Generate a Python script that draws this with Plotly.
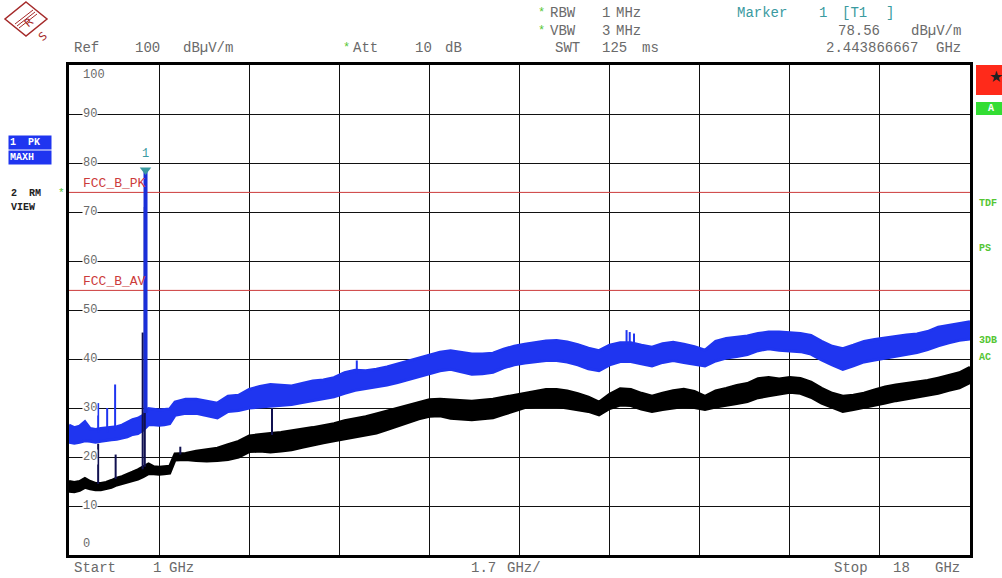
import plotly.graph_objects as go

# ---------------- data ----------------
freq_ghz = [1.0, 1.1, 1.2, 1.3, 1.4, 1.5, 1.6, 1.7, 1.8, 1.9, 2.0, 2.1, 2.2, 2.3, 2.4,
            2.5, 2.6, 2.7, 2.8, 2.9, 3.0, 3.2, 3.4, 3.6, 3.8, 4.0, 4.2, 4.4, 4.6, 4.8,
            5.0, 5.2, 5.4, 5.6, 5.8, 6.0, 6.2, 6.4, 6.6, 6.8, 7.0, 7.2, 7.4, 7.6, 7.8,
            8.0, 8.2, 8.4, 8.6, 8.8, 9.0, 9.2, 9.4, 9.6, 9.8, 10.0, 10.2, 10.4, 10.6, 10.8,
            11.0, 11.2, 11.4, 11.6, 11.8, 12.0, 12.2, 12.4, 12.6, 12.8, 13.0, 13.2, 13.4, 13.6, 13.8,
            14.0, 14.2, 14.4, 14.6, 14.8, 15.0, 15.2, 15.4, 15.6, 15.8, 16.0, 16.2, 16.4, 16.6, 16.8,
            17.0, 17.2, 17.4, 17.6, 17.8, 18.0]

# trace 1 (PK, MAXH) - lower / upper edge of the noise band, dBuV/m
pk_low = [23.0, 22.8, 23.0, 23.3, 23.2, 23.0, 23.2, 23.4, 23.5, 23.6, 23.8, 24.1, 24.6, 24.8, 25.5,
          26.6, 26.6, 26.5, 26.6, 26.8, 28.5, 28.9, 28.9, 28.4, 28.0, 29.3, 29.5, 30.0, 30.2, 30.3,
          30.5, 30.7, 31.1, 31.5, 31.8, 32.3, 33.0, 33.6, 34.0, 34.3, 34.7, 35.2, 35.8, 36.4, 36.9,
          37.6, 37.9, 37.4, 36.9, 37.0, 37.3, 38.2, 38.8, 39.2, 39.5, 39.7, 39.7, 39.4, 38.8, 38.0,
          37.6, 38.8, 39.5, 39.5, 39.0, 38.6, 39.3, 39.7, 39.3, 38.9, 38.6, 39.6, 40.2, 40.5, 40.9,
          41.7, 42.1, 41.8, 41.7, 41.5, 41.0, 39.8, 38.8, 37.9, 38.6, 39.4, 39.8, 40.2, 40.6, 40.9,
          41.3, 41.9, 42.7, 43.3, 43.8, 44.1]
pk_high = [26.5, 26.0, 26.3, 27.2, 25.8, 25.6, 25.8, 25.9, 26.0, 26.2, 26.5, 27.0, 27.6, 27.9, 28.5,
           29.9, 29.7, 29.6, 29.7, 29.8, 31.2, 31.8, 31.8, 31.4, 31.0, 32.4, 32.6, 33.8, 34.4, 34.8,
           34.6, 34.5, 35.0, 35.5, 35.7, 36.2, 37.2, 37.7, 37.6, 37.9, 38.4, 39.0, 39.6, 40.2, 40.8,
           41.4, 41.7, 41.4, 41.0, 41.0, 41.2, 42.0, 42.6, 43.0, 43.4, 43.7, 43.8, 43.5, 42.9, 42.2,
           41.7, 42.8, 43.3, 43.3, 42.8, 42.4, 43.1, 43.4, 43.0, 42.5, 41.8, 43.6, 44.2, 44.4, 44.7,
           45.2, 45.5, 45.5, 45.4, 45.2, 44.8, 43.6, 42.6, 42.1, 42.8, 43.6, 44.0, 44.3, 44.7, 44.9,
           45.1, 45.6, 46.5, 46.9, 47.2, 47.6]

# trace 2 (RM, VIEW) - lower / upper edge of the noise band, dBuV/m
rm_low = [13.0, 12.9, 13.2, 13.8, 13.5, 13.3, 13.3, 13.5, 13.8, 14.3, 14.6, 14.9, 15.2, 15.5, 16.0,
          16.6, 16.6, 16.5, 16.6, 16.7, 19.4, 19.5, 19.3, 19.2, 19.3, 19.5, 20.0, 21.1, 21.2, 21.0,
          21.2, 21.5, 22.0, 22.5, 22.9, 23.3, 23.7, 24.0, 24.4, 24.9, 25.6, 26.3, 27.1, 27.8, 28.3,
          28.4, 27.9, 27.7, 27.6, 27.8, 28.0, 28.7, 29.4, 30.1, 30.3, 30.3, 30.3, 30.0, 29.7, 29.3,
          28.6, 29.9, 30.6, 30.5, 29.8, 29.3, 29.7, 30.0, 30.3, 30.1, 29.7, 30.2, 30.5, 30.9, 31.3,
          32.1, 32.5, 32.8, 33.2, 33.0, 32.2, 31.0, 30.2, 29.3, 29.7, 30.1, 30.5, 31.0, 31.5, 31.9,
          32.3, 32.7, 33.0, 33.6, 34.1, 35.2]
rm_high = [15.0, 14.8, 15.0, 15.6, 15.0, 14.6, 14.6, 14.8, 15.2, 15.7, 16.0, 16.4, 16.9, 17.4, 18.0,
           18.6, 18.0, 17.9, 18.0, 18.1, 20.6, 20.7, 21.2, 21.5, 21.8, 22.5, 23.2, 24.3, 24.6, 24.8,
           25.0, 25.3, 25.6, 26.0, 26.4, 26.8, 27.4, 27.8, 28.2, 28.8, 29.4, 30.0, 30.6, 31.2, 31.7,
           31.8, 31.7, 31.5, 31.4, 31.6, 31.8, 32.2, 32.6, 33.0, 33.4, 33.8, 33.8, 33.5, 32.9, 32.2,
           31.2, 32.8, 33.9, 33.8, 33.0, 32.4, 33.0, 33.5, 33.8, 33.4, 32.4, 33.5, 34.0, 34.6, 35.0,
           36.0, 36.2, 35.9, 36.2, 36.0, 35.3, 34.0, 33.0, 32.4, 32.6, 33.0, 33.7, 34.3, 34.7, 35.0,
           35.2, 35.6, 36.1, 36.7, 37.2, 38.3]

# isolated spurs (frequency, base level, top level)
pk_spur_f = [1.55, 1.72, 1.87, 6.43, 11.52, 11.58, 11.66]
pk_spur_base = [25.0, 25.0, 25.5, 37.0, 43.0, 43.0, 43.0]
pk_spur_top = [31.0, 30.0, 34.8, 39.7, 45.9, 45.5, 45.2]

rm_spur_f = [1.55, 1.88, 2.39, 2.43, 3.1, 4.83]
rm_spur_base = [14.5, 15.5, 17.5, 18.0, 20.5, 24.5]
rm_spur_top = [22.7, 20.5, 45.4, 71.0, 22.1, 30.0]

# carrier seen by marker 1
marker_f = 2.443866667
marker_v = 78.56
carrier_base = 29.0

# limit lines
limit_names = ["FCC_B_PK", "FCC_B_AV"]
limit_values = [74.0, 54.0]

f_start, f_stop, f_div = 1.0, 18.0, 1.7
y_ticks = [0, 10, 20, 30, 40, 50, 60, 70, 80, 90, 100]

# ---------------- figure ----------------
BLUE = "#1f35f0"
BLACK = "#000000"
RED = "#cc3b3b"
TEAL = "#3a9aa0"
GREY = "#6a6a6a"
GREEN = "#55c633"
FONT = "Liberation Mono"

L, R, T, B = 69, 970, 65, 555
W, H = 1002, 578


def PX(x):
    return (x - L) / (R - L)


def PY(y):
    return (B - y) / (B - T)


def spur_xy(fs, base, top):
    xs, ys = [], []
    for f, b, t in zip(fs, base, top):
        xs += [f, f, None]
        ys += [b, t, None]
    return xs, ys


fig = go.Figure()

# limit lines
for name, v in zip(limit_names, limit_values):
    fig.add_trace(go.Scatter(x=[f_start, f_stop], y=[v, v], mode="lines",
                             line=dict(color=RED, width=1), hoverinfo="skip"))

# PK trace band
fig.add_trace(go.Scatter(x=freq_ghz, y=pk_low, mode="lines",
                         line=dict(color=BLUE, width=3), hoverinfo="skip"))
fig.add_trace(go.Scatter(x=freq_ghz, y=pk_high, mode="lines", fill="tonexty",
                         fillcolor=BLUE, line=dict(color=BLUE, width=3), hoverinfo="skip"))
sx, sy = spur_xy(pk_spur_f, pk_spur_base, pk_spur_top)
fig.add_trace(go.Scatter(x=sx, y=sy, mode="lines", line=dict(color=BLUE, width=2),
                         hoverinfo="skip"))

# RM trace band
fig.add_trace(go.Scatter(x=freq_ghz, y=rm_low, mode="lines",
                         line=dict(color=BLACK, width=3), hoverinfo="skip"))
fig.add_trace(go.Scatter(x=freq_ghz, y=rm_high, mode="lines", fill="tonexty",
                         fillcolor=BLACK, line=dict(color=BLACK, width=3), hoverinfo="skip"))
sx, sy = spur_xy(rm_spur_f, rm_spur_base, rm_spur_top)
fig.add_trace(go.Scatter(x=sx, y=sy, mode="lines", line=dict(color="#101050", width=2),
                         hoverinfo="skip"))

# carrier peak (PK trace)
fig.add_trace(go.Scatter(x=[marker_f, marker_f], y=[carrier_base, marker_v], mode="lines",
                         line=dict(color="#1a2fd8", width=4), hoverinfo="skip"))
# marker 1
fig.add_trace(go.Scatter(x=[marker_f], y=[marker_v], mode="markers",
                         marker=dict(symbol="triangle-down", size=10, color=TEAL),
                         hoverinfo="skip"))

ann = []


def text(t, x, y, color=GREY, size=14, anchor="left", **kw):
    ann.append(dict(text=t, x=PX(x), y=PY(y), xref="paper", yref="paper",
                    xanchor=anchor, yanchor="middle", showarrow=False,
                    font=dict(family=FONT, size=size, color=color), **kw))


# marker label
ann.append(dict(text="1", x=marker_f, y=marker_v, xref="x", yref="y", yshift=16,
                showarrow=False, font=dict(family=FONT, size=12, color=TEAL)))

# y tick labels inside the plot
for v in y_ticks:
    if v == 100:
        yp = 75
    elif v == 0:
        yp = 544
    else:
        yp = B - v * (B - T) / 100
    ann.append(dict(text=str(v), x=PX(82), y=PY(yp), xref="paper", yref="paper",
                    xanchor="left", yanchor="middle", showarrow=False,
                    bgcolor="white", borderpad=0,
                    font=dict(family=FONT, size=12, color=GREY)))

# limit labels
text(limit_names[0], 81, 183, color=RED, size=13)
text(limit_names[1], 81, 281, color=RED, size=13)

# header, row 1
text("*", 536, 13, color=GREEN, size=12)
text("RBW", 548, 13)
text("1", 600, 13)
text("MHz", 614, 13)
text("Marker", 735, 13, color=TEAL)
text("1", 817, 13, color=TEAL)
text("[T1", 840, 13, color=TEAL)
text("]", 884, 13, color=TEAL)
# row 2
text("*", 536, 31, color=GREEN, size=12)
text("VBW", 548, 31)
text("3", 600, 31)
text("MHz", 614, 31)
text("78.56", 882, 31, anchor="right")
text("dB\u00b5V/m", 963, 31, anchor="right")
# row 3
text("Ref", 72, 48)
text("100", 133, 48)
text("dB\u00b5V/m", 181, 48)
text("*", 341, 48, color=GREEN, size=12)
text("Att", 351, 48)
text("10", 413, 48)
text("dB", 443, 48)
text("SWT", 553, 48)
text("125", 600, 48)
text("ms", 640, 48)
text("2.443866667", 920, 48, anchor="right")
text("GHz", 963, 48, anchor="right")

# footer
text("Start", 72, 568)
text("1", 151, 568)
text("GHz", 167, 568)
text("1.7", 469, 568)
text("GHz/", 505, 568)
text("Stop", 832, 568)
text("18", 891, 568)
text("GHz", 962, 568, anchor="right")

# left trace info
ann.append(dict(text="<b>1  PK</b>", x=PX(8), y=PY(142), xref="paper", yref="paper",
                xanchor="left", yanchor="middle", showarrow=False, bgcolor="#1f35f0",
                borderpad=1, width=40, align="left",
                font=dict(family=FONT, size=10, color="white")))
ann.append(dict(text="<b>MAXH</b>", x=PX(8), y=PY(157), xref="paper", yref="paper",
                xanchor="left", yanchor="middle", showarrow=False, bgcolor="#1f35f0",
                borderpad=1, width=40, align="left",
                font=dict(family=FONT, size=10, color="white")))
text("<b>2  RM</b>", 9, 193, color="#222222", size=10)
text("*", 56, 193, color=GREEN, size=11)
text("<b>VIEW</b>", 9, 208, color="#222222", size=10)

# right side indicators
text("<b>TDF</b>", 977, 203, color=GREEN, size=10)
text("<b>PS</b>", 977, 248, color=GREEN, size=10)
text("<b>3DB</b>", 977, 340, color=GREEN, size=10)
text("<b>AC</b>", 977, 357, color=GREEN, size=10)
text("\u2605", 987, 78, color="#222222", size=16)
text("<b>A</b>", 986, 108, color="white", size=10)

shapes = [
    dict(type="rect", xref="paper", yref="paper", x0=PX(976), x1=PX(1004),
         y0=PY(95), y1=PY(65), fillcolor="#ff2a1a", line=dict(width=0), layer="below"),
    dict(type="rect", xref="paper", yref="paper", x0=PX(976), x1=PX(1004),
         y0=PY(115), y1=PY(102), fillcolor="#33dd33", line=dict(width=0), layer="below"),
]

# R&S logo
cx, cy, hw, hh = 26, 19, 21, 17
logo = "#a52a2a"
path = (f"M {PX(cx)} {PY(cy - hh)} L {PX(cx + hw)} {PY(cy)} L {PX(cx)} {PY(cy + hh)} "
        f"L {PX(cx - hw)} {PY(cy)} Z")
shapes.append(dict(type="path", xref="paper", yref="paper", path=path,
                   line=dict(color=logo, width=1.5)))
for d in (-2, 0, 2):
    shapes.append(dict(type="line", xref="paper", yref="paper",
                       x0=PX(cx - 9 + d), y0=PY(cy + 7 + d), x1=PX(cx + 9 + d), y1=PY(cy - 7 + d),
                       line=dict(color=logo, width=1)))
ann.append(dict(text="R", x=PX(cx - 7), y=PY(cy - 7), xref="paper", yref="paper",
                showarrow=False, textangle=-40,
                font=dict(family="DejaVu Sans", size=11, color=logo)))
ann.append(dict(text="S", x=PX(cx + 7), y=PY(cy + 7), xref="paper", yref="paper",
                showarrow=False, textangle=-40,
                font=dict(family="DejaVu Sans", size=11, color=logo)))

fig.update_layout(
    width=W, height=H,
    margin=dict(l=L, r=W - R, t=T, b=H - B),
    paper_bgcolor="white", plot_bgcolor="white",
    showlegend=False,
    annotations=ann, shapes=shapes,
    xaxis=dict(range=[f_start, f_stop], tick0=f_start, dtick=f_div,
               showgrid=True, gridcolor="#111111", gridwidth=1,
               showticklabels=False, ticks="", zeroline=False,
               showline=True, linecolor="black", linewidth=3, mirror=True),
    yaxis=dict(range=[0, 100], tick0=0, dtick=10,
               showgrid=True, gridcolor="#111111", gridwidth=1,
               showticklabels=False, ticks="", zeroline=False,
               showline=True, linecolor="black", linewidth=3, mirror=True),
)

fig.write_html("out.html")
